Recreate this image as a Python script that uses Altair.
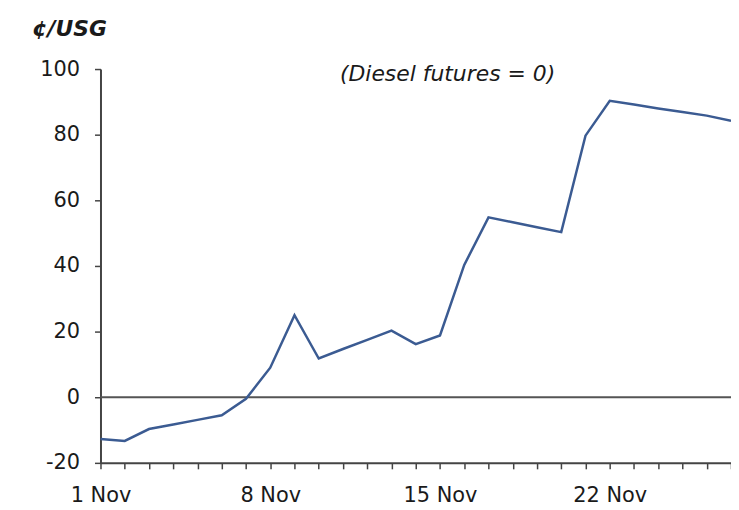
import altair as alt
import pandas as pd

days = list(range(1, 28))
spread = [-12.7, -13.3, -9.7, -8.3, -6.9, -5.5, -0.5, 9.0, 25.0, 11.8,
          14.7, 17.5, 20.3, 16.2, 18.8, 40.3, 54.8, 53.3, 51.8, 50.3,
          79.7, 90.3, 89.2, 88.0, 86.9, 85.8, 84.2]
x_labels_days = [1, 8, 15, 22]
y_ticks = list(range(-20, 101, 10))

df = pd.DataFrame({
    "date": [f"2010-11-{d:02d}" for d in days],
    "value": spread,
})

FONT = "DejaVu Sans"

x_enc = alt.X(
    "date:T",
    scale=alt.Scale(type="utc", domain=[alt.DateTime(year=2010, month=11, date=1, utc=True),
                                        alt.DateTime(year=2010, month=11, date=27, utc=True)]),
    axis=alt.Axis(
        values=[alt.DateTime(year=2010, month=11, date=d, utc=True) for d in days],
        format="%-d %b",
        labelExpr="indexof(" + str(x_labels_days) + ", utcdate(datum.value)) >= 0 ? datum.label : ''",
        title=None, grid=False, domainColor="#444", domainWidth=2,
        tickColor="#444", tickWidth=1.5, tickSize=6, labelPadding=16,
        labelFont=FONT, labelFontSize=21, labelColor="#1a1a1a", labelFlush=False,
        labelOverlap=False,
    ),
)

y_enc = alt.Y(
    "value:Q",
    scale=alt.Scale(domain=[-20, 100], nice=False, zero=False),
    axis=alt.Axis(
        values=y_ticks,
        labelExpr="datum.value % 20 == 0 ? '' + datum.value : ''",
        title="¢/USG", titleAngle=0, titleAlign="left", titleBaseline="middle",
        titleX=-69, titleY=-41, titleFont=FONT, titleFontSize=22,
        titleFontWeight="bold", titleFontStyle="italic", titleColor="#1a1a1a",
        grid=False, domainColor="#444", domainWidth=2,
        tickColor="#444", tickWidth=1.5, tickSize=6, labelPadding=15,
        labelFont=FONT, labelFontSize=21, labelColor="#1a1a1a",
    ),
)

line = alt.Chart(df).mark_line(color="#3b5b92", strokeWidth=2.5).encode(x=x_enc, y=y_enc)

zero = alt.Chart(pd.DataFrame({"y": [0]})).mark_rule(color="#555", strokeWidth=2.2).encode(y="y:Q")

note = alt.Chart(pd.DataFrame({"t": ["(Diesel futures = 0)"]})).mark_text(
    font=FONT, fontSize=22, fontStyle="italic", color="#1a1a1a", align="center", baseline="middle"
).encode(x=alt.value(349), y=alt.value(5), text="t:N")

chart = alt.layer(zero, line, note).properties(
    width=634, height=396,
    autosize=alt.AutoSizeParams(type="none"),
    padding={"left": 93, "top": 60, "right": 0, "bottom": 42},
).configure_view(stroke=None)

chart.save("out.html", embed_options={"renderer": "svg", "actions": False})
